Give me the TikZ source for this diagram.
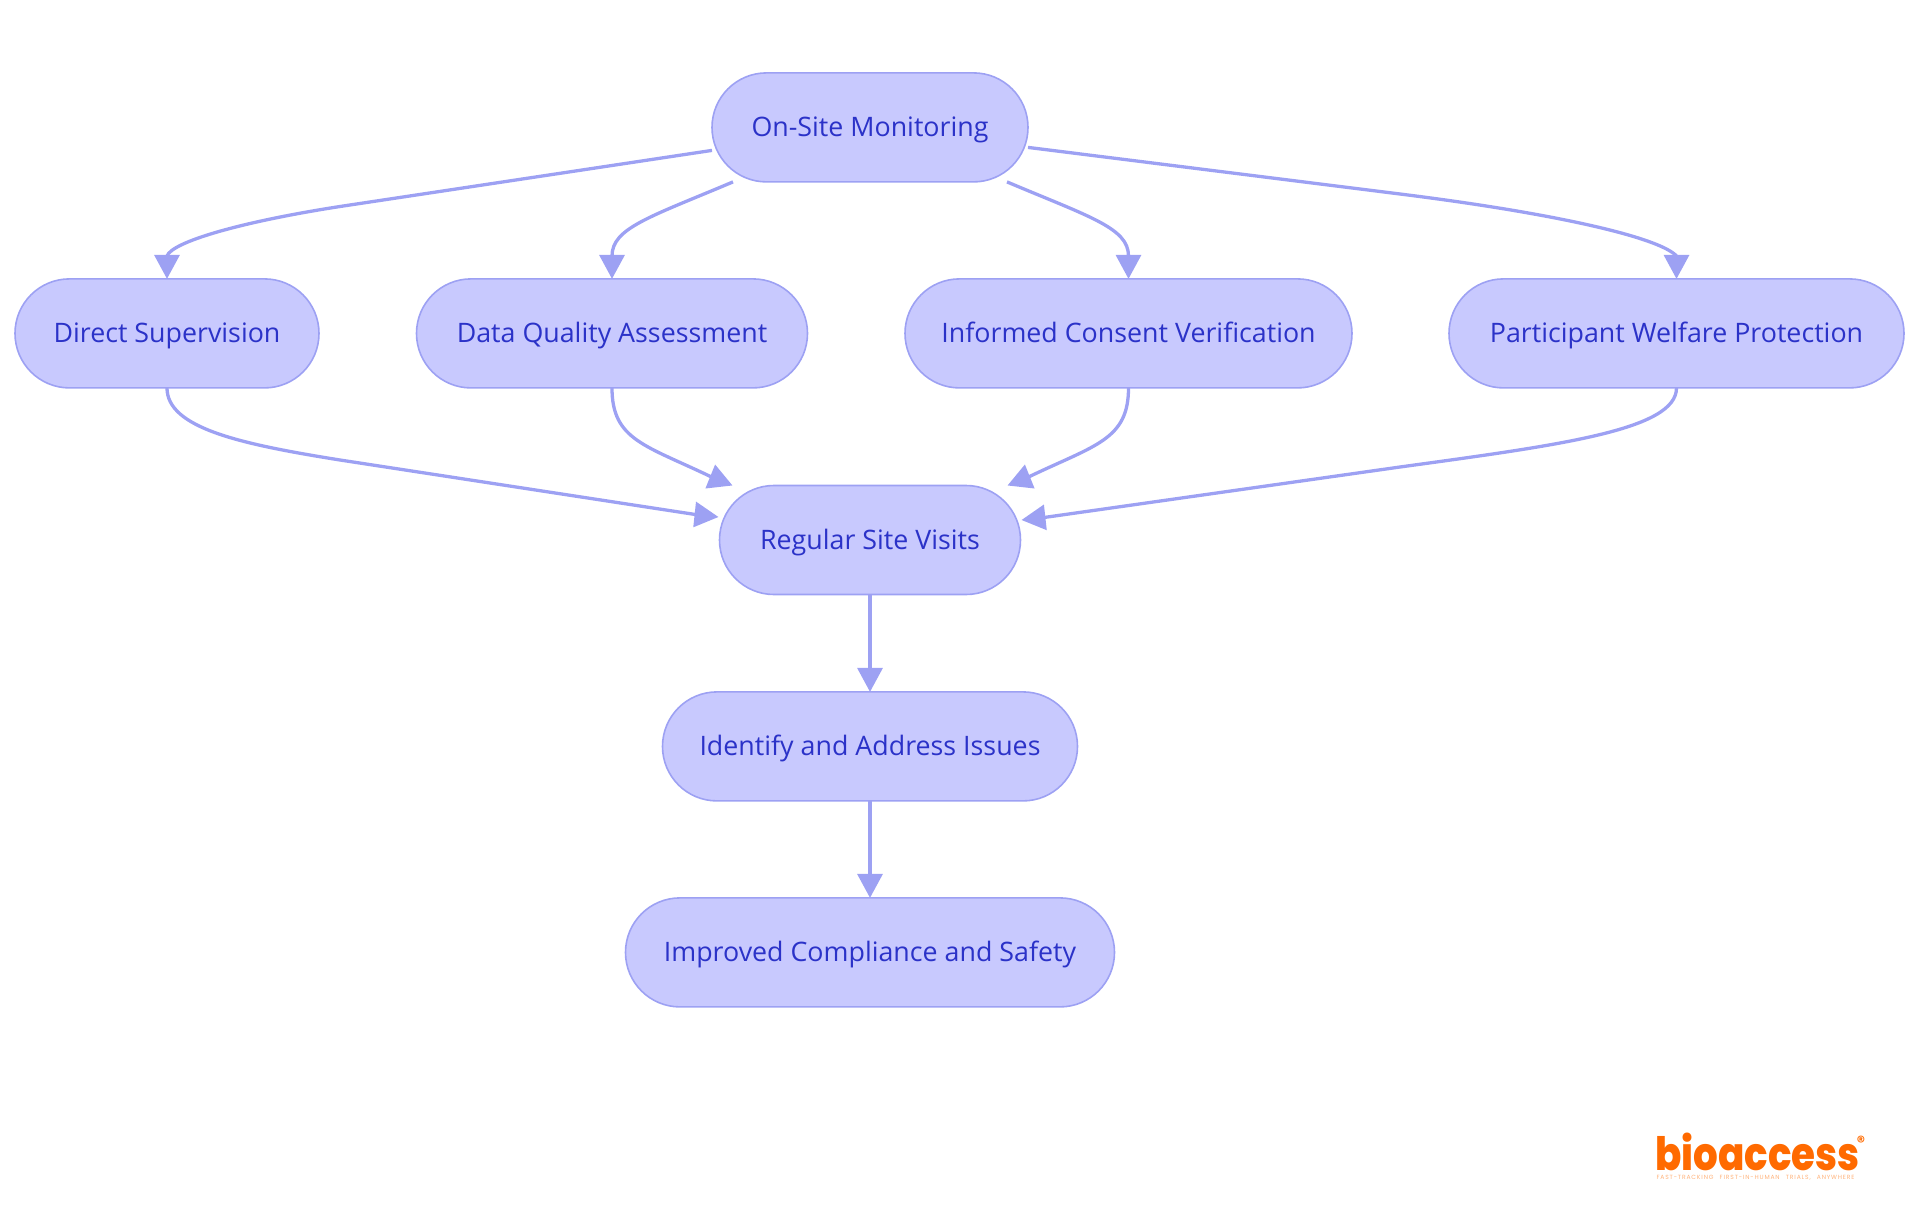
\documentclass[tikz,border=0pt]{standalone}
\usepackage{fontspec}
\usetikzlibrary{arrows.meta,calc}
\setmainfont{Open Sans}
\newfontfamily\logofont{Poppins ExtraBold}[FakeStretch=0.843]
\newfontfamily\regfont{Poppins}[BoldFont={Poppins Bold}]
\newfontfamily\tagfont{Poppins}[LetterSpace=14,WordSpace=2.5]
\definecolor{nodefill}{HTML}{C8C9FE}
\definecolor{nodeline}{HTML}{9DA1F3}
\definecolor{nodetext}{HTML}{2B32C8}
\definecolor{logoorange}{HTML}{FF6A00}
\definecolor{tagorange}{HTML}{FFB27A}
\tikzset{
  pill/.style={draw=nodeline,fill=nodefill,line width=1.6pt,rounded corners=54.5pt,
    minimum height=109pt,inner sep=0pt,outer sep=0pt,text=nodetext,
    font=\fontsize{26.8pt}{32pt}\selectfont,text height=24pt,text depth=6pt,anchor=center},
  conn/.style={draw=nodeline,line width=3.3pt,-{Triangle[length=24pt,width=25pt]}},
}
\begin{document}
\begin{tikzpicture}[x=1pt,y=-1pt]
\useasboundingbox (0,0) rectangle (1920,1215);
\node[pill,minimum width=316pt] (onsite) at (870,127.4) {On-Site Monitoring};
\node[pill,minimum width=304pt] (direct) at (167,333.4) {Direct Supervision};
\node[pill,minimum width=391pt] (data) at (612,333.4) {Data Quality Assessment};
\node[pill,minimum width=447pt] (consent) at (1128.5,333.4) {Informed Consent Verification};
\node[pill,minimum width=455pt] (welfare) at (1676.5,333.4) {Participant Welfare Protection};
\node[pill,minimum width=301pt] (visits) at (870,540) {Regular Site Visits};
\node[pill,minimum width=415pt] (issues) at (870,746.4) {Identify and Address Issues};
\node[pill,minimum width=489pt] (safety) at (870,952.4) {Improved Compliance and Safety};

\draw[conn] ($(onsite.west)+(0,23)$) -- (340,206.5) .. controls (240,222) and (172,242) .. (167,256) -- (direct.north);
\draw[conn] ($(onsite.south)+(-137,0)$) .. controls (650,217) and (612,228) .. (612,256) -- (data.north);
\draw[conn] ($(onsite.south)+(137,0)$) .. controls (1090,217) and (1128.5,228) .. (1128.5,256) -- (consent.north);
\draw[conn] ($(onsite.east)+(0,20)$) -- (1400,194) .. controls (1560,214) and (1660,238) .. (1676.5,256) -- (welfare.north);

\draw[conn] (direct.south) .. controls (167,428) and (240,444) .. (340,460) -- (696,514.6) -- ($(visits.west)+(-1,-23)$);
\draw[conn] (data.south) .. controls (612,440) and (645,445) .. (711.5,477) -- ($(visits.north)+(-137.5,0)$);
\draw[conn] (consent.south) .. controls (1128.5,440) and (1095,445) .. (1028.5,477) -- ($(visits.north)+(137.5,0)$);
\draw[conn] (welfare.south) .. controls (1676.5,430) and (1560,445) .. (1400,467) -- (1044,517.5) -- ($(visits.east)+(1,-20)$);

\draw[conn] (visits.south) -- (issues.north);
\draw[conn] (issues.south) -- (safety.north);

\node[anchor=base west,inner sep=0pt,text=logoorange,font=\logofont\fontsize{46pt}{46pt}\selectfont] (logo) at (1655,1170.7) {bioaccess};
\node[anchor=center,inner sep=0pt,text=logoorange,font=\regfont\bfseries\fontsize{16pt}{16pt}\selectfont] (reg) at (1861,1142) {®};
\node[anchor=center,inner sep=0pt,text=tagorange,font=\tagfont\fontsize{6.03pt}{6.5pt}\selectfont] (tag) at (1755.5,1178) {FAST-TRACKING FIRST-IN-HUMAN TRIALS, ANYWHERE};
\end{tikzpicture}
\end{document}
